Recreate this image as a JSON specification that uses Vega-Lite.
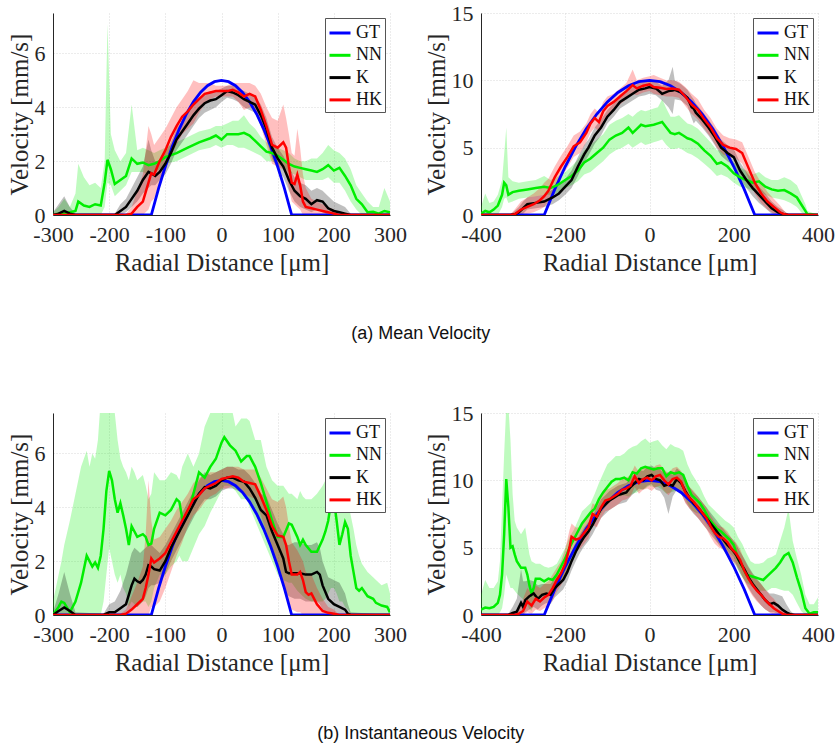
{
"$schema": "https://vega.github.io/schema/vega-lite/v6.json",
"background": "white",
"padding": {"left": 7, "top": 2, "right": 0, "bottom": 0},
"config": {
 "font": "Liberation Serif",
 "view": {"stroke": null},
 "axis": {"labelFont": "Liberation Serif", "labelFontSize": 22, "labelColor": "#262626", "titleFont": "Liberation Serif", "titleFontSize": 25, "titleFontWeight": "normal", "titleColor": "#262626", "gridColor": "#d9d9d9", "gridDash": [1, 2], "domainColor": "#262626", "domainWidth": 1, "ticks": false, "labelFlush": false, "labelOverlap": false, "labelExpr": "toString(datum.value)"},
 "axisX": {"labelPadding": 9, "titlePadding": 5},
 "axisY": {"labelPadding": 8, "titlePadding": 2},
 "legend": {"orient": "top-right", "offset": 5, "strokeColor": "#555555", "fillColor": "white", "padding": 3, "symbolType": "stroke", "symbolSize": 441, "symbolStrokeWidth": 3, "labelFont": "Liberation Serif", "labelFontSize": 18, "labelColor": "#111111", "labelOffset": 4, "rowPadding": 1.3},
 "title": {"font": "Liberation Sans", "fontSize": 18, "fontWeight": "normal", "color": "#111111"},
 "concat": {"spacing": 91}
},
"datasets": {
"gt1": [
 {"series":"GT","x":-300,"y":0},{"series":"GT","x":-125,"y":0},{"series":"GT","x":-112,"y":0.99},{"series":"GT","x":-100,"y":1.8},{"series":"GT","x":-87.5,"y":2.55},{"series":"GT","x":-75,"y":3.2},{"series":"GT","x":-62.5,"y":3.75},{"series":"GT","x":-50,"y":4.2},{"series":"GT","x":-37.5,"y":4.55},{"series":"GT","x":-25,"y":4.8},{"series":"GT","x":-12.5,"y":4.95},{"series":"GT","x":0,"y":5},{"series":"GT","x":12.5,"y":4.95},{"series":"GT","x":25,"y":4.8},{"series":"GT","x":37.5,"y":4.55},{"series":"GT","x":50,"y":4.2},{"series":"GT","x":62.5,"y":3.75},{"series":"GT","x":75,"y":3.2},{"series":"GT","x":87.5,"y":2.55},{"series":"GT","x":100,"y":1.8},{"series":"GT","x":112,"y":0.99},{"series":"GT","x":125,"y":0},{"series":"GT","x":300,"y":0}
],
"gt2": [
 {"series":"GT","x":-400,"y":0},{"series":"GT","x":-250,"y":0},{"series":"GT","x":-225,"y":1.9},{"series":"GT","x":-200,"y":3.6},{"series":"GT","x":-175,"y":5.1},{"series":"GT","x":-150,"y":6.4},{"series":"GT","x":-125,"y":7.5},{"series":"GT","x":-100,"y":8.4},{"series":"GT","x":-75,"y":9.1},{"series":"GT","x":-50,"y":9.6},{"series":"GT","x":-25,"y":9.9},{"series":"GT","x":0,"y":10},{"series":"GT","x":25,"y":9.9},{"series":"GT","x":50,"y":9.6},{"series":"GT","x":75,"y":9.1},{"series":"GT","x":100,"y":8.4},{"series":"GT","x":125,"y":7.5},{"series":"GT","x":150,"y":6.4},{"series":"GT","x":175,"y":5.1},{"series":"GT","x":200,"y":3.6},{"series":"GT","x":225,"y":1.9},{"series":"GT","x":250,"y":0},{"series":"GT","x":400,"y":0}
],
"a1": [
 {"series":"NN","x":-300,"y":0,"lo":0,"hi":0.1},{"series":"NN","x":-290,"y":0.05,"lo":0,"hi":0.3},{"series":"NN","x":-280,"y":0.05,"lo":0,"hi":0.6},{"series":"NN","x":-270,"y":0.1,"lo":0,"hi":0.3},{"series":"NN","x":-260,"y":0.15,"lo":0,"hi":0.8},{"series":"NN","x":-255,"y":0.5,"lo":0,"hi":1.9},{"series":"NN","x":-245,"y":0.35,"lo":0,"hi":1.4},{"series":"NN","x":-235,"y":0.3,"lo":0,"hi":1.1},{"series":"NN","x":-225,"y":0.4,"lo":0,"hi":1.2},{"series":"NN","x":-215,"y":0.35,"lo":0,"hi":1.0},{"series":"NN","x":-208,"y":1.2,"lo":0.3,"hi":2.0},{"series":"NN","x":-203,"y":2.05,"lo":1.2,"hi":7.1},{"series":"NN","x":-197,"y":1.7,"lo":1.1,"hi":3.0},{"series":"NN","x":-190,"y":1.15,"lo":0.7,"hi":2.4},{"series":"NN","x":-180,"y":1.3,"lo":0.9,"hi":2.0},{"series":"NN","x":-170,"y":1.45,"lo":1.1,"hi":2.3},{"series":"NN","x":-160,"y":2.1,"lo":1.6,"hi":4.1},{"series":"NN","x":-150,"y":1.9,"lo":1.6,"hi":2.4},{"series":"NN","x":-140,"y":1.95,"lo":1.6,"hi":2.5},{"series":"NN","x":-130,"y":1.85,"lo":1.5,"hi":2.4},{"series":"NN","x":-120,"y":1.9,"lo":1.6,"hi":2.3},{"series":"NN","x":-110,"y":2.0,"lo":1.7,"hi":2.4},{"series":"NN","x":-100,"y":2.15,"lo":1.9,"hi":2.5},{"series":"NN","x":-80,"y":2.3,"lo":2.0,"hi":2.7},{"series":"NN","x":-60,"y":2.5,"lo":2.2,"hi":2.9},{"series":"NN","x":-40,"y":2.7,"lo":2.4,"hi":3.1},{"series":"NN","x":-20,"y":2.85,"lo":2.5,"hi":3.2},{"series":"NN","x":-10,"y":2.95,"lo":2.6,"hi":3.3},{"series":"NN","x":0,"y":2.8,"lo":2.5,"hi":3.3},{"series":"NN","x":10,"y":3.0,"lo":2.6,"hi":3.4},{"series":"NN","x":20,"y":3.0,"lo":2.6,"hi":3.5},{"series":"NN","x":30,"y":3.0,"lo":2.5,"hi":3.5},{"series":"NN","x":40,"y":3.05,"lo":2.5,"hi":3.7},{"series":"NN","x":50,"y":2.95,"lo":2.4,"hi":3.4},{"series":"NN","x":60,"y":2.75,"lo":2.3,"hi":3.2},{"series":"NN","x":70,"y":2.55,"lo":2.2,"hi":2.9},{"series":"NN","x":80,"y":2.35,"lo":2.0,"hi":2.7},{"series":"NN","x":90,"y":2.3,"lo":2.0,"hi":2.6},{"series":"NN","x":100,"y":2.2,"lo":1.9,"hi":2.5},{"series":"NN","x":110,"y":2.05,"lo":1.8,"hi":2.4},{"series":"NN","x":120,"y":1.9,"lo":1.6,"hi":2.3},{"series":"NN","x":130,"y":1.8,"lo":1.5,"hi":2.1},{"series":"NN","x":140,"y":1.75,"lo":1.4,"hi":2.0},{"series":"NN","x":150,"y":1.7,"lo":1.3,"hi":2.0},{"series":"NN","x":160,"y":1.65,"lo":1.3,"hi":2.1},{"series":"NN","x":170,"y":1.6,"lo":1.3,"hi":2.1},{"series":"NN","x":180,"y":1.7,"lo":1.3,"hi":2.3},{"series":"NN","x":190,"y":1.85,"lo":1.4,"hi":2.6},{"series":"NN","x":200,"y":1.65,"lo":1.2,"hi":2.4},{"series":"NN","x":210,"y":1.75,"lo":1.2,"hi":2.3},{"series":"NN","x":220,"y":1.45,"lo":0.9,"hi":2.1},{"series":"NN","x":230,"y":1.1,"lo":0.5,"hi":1.7},{"series":"NN","x":240,"y":0.6,"lo":0.2,"hi":1.1},{"series":"NN","x":250,"y":0.4,"lo":0,"hi":0.8},{"series":"NN","x":260,"y":0.1,"lo":0,"hi":0.5},{"series":"NN","x":270,"y":0.12,"lo":0,"hi":0.3},{"series":"NN","x":280,"y":0.05,"lo":0,"hi":0.3},{"series":"NN","x":290,"y":0.15,"lo":0,"hi":1.0},{"series":"NN","x":300,"y":0.1,"lo":0,"hi":0.5},
 {"series":"K","x":-300,"y":0,"lo":0,"hi":0.1},{"series":"K","x":-290,"y":0.05,"lo":0,"hi":0.4},{"series":"K","x":-280,"y":0.15,"lo":0,"hi":0.7},{"series":"K","x":-270,"y":0.05,"lo":0,"hi":0.3},{"series":"K","x":-260,"y":0,"lo":0,"hi":0.05},{"series":"K","x":-190,"y":0,"lo":0,"hi":0.05},{"series":"K","x":-180,"y":0.15,"lo":0,"hi":0.4},{"series":"K","x":-170,"y":0.3,"lo":0.1,"hi":0.6},{"series":"K","x":-160,"y":0.6,"lo":0.3,"hi":1.0},{"series":"K","x":-150,"y":0.9,"lo":0.5,"hi":1.4},{"series":"K","x":-140,"y":1.3,"lo":0.8,"hi":1.8},{"series":"K","x":-130,"y":1.6,"lo":1.0,"hi":2.8},{"series":"K","x":-125,"y":1.55,"lo":1.1,"hi":2.4},{"series":"K","x":-118,"y":1.45,"lo":1.1,"hi":2.0},{"series":"K","x":-110,"y":1.6,"lo":1.3,"hi":2.0},{"series":"K","x":-100,"y":1.9,"lo":1.5,"hi":2.3},{"series":"K","x":-90,"y":2.3,"lo":1.9,"hi":2.7},{"series":"K","x":-80,"y":2.8,"lo":2.4,"hi":3.2},{"series":"K","x":-70,"y":3.1,"lo":2.7,"hi":3.5},{"series":"K","x":-60,"y":3.4,"lo":3.0,"hi":3.8},{"series":"K","x":-50,"y":3.7,"lo":3.3,"hi":4.1},{"series":"K","x":-40,"y":3.95,"lo":3.6,"hi":4.3},{"series":"K","x":-30,"y":4.15,"lo":3.8,"hi":4.5},{"series":"K","x":-20,"y":4.25,"lo":3.9,"hi":4.6},{"series":"K","x":-10,"y":4.3,"lo":4.0,"hi":4.6},{"series":"K","x":0,"y":4.45,"lo":4.2,"hi":4.7},{"series":"K","x":10,"y":4.6,"lo":4.35,"hi":4.8},{"series":"K","x":20,"y":4.55,"lo":4.3,"hi":4.8},{"series":"K","x":30,"y":4.45,"lo":4.2,"hi":4.7},{"series":"K","x":40,"y":4.3,"lo":4.0,"hi":4.6},{"series":"K","x":50,"y":4.2,"lo":3.9,"hi":4.5},{"series":"K","x":60,"y":4.1,"lo":3.8,"hi":4.4},{"series":"K","x":70,"y":3.7,"lo":3.3,"hi":4.1},{"series":"K","x":80,"y":3.2,"lo":2.8,"hi":3.6},{"series":"K","x":90,"y":2.5,"lo":2.1,"hi":2.9},{"series":"K","x":100,"y":2.1,"lo":1.7,"hi":2.5},{"series":"K","x":110,"y":1.8,"lo":1.4,"hi":2.2},{"series":"K","x":120,"y":1.3,"lo":0.9,"hi":1.8},{"series":"K","x":130,"y":0.9,"lo":0.5,"hi":1.4},{"series":"K","x":140,"y":0.7,"lo":0.3,"hi":1.2},{"series":"K","x":150,"y":0.6,"lo":0.2,"hi":1.1},{"series":"K","x":160,"y":0.4,"lo":0.1,"hi":0.9},{"series":"K","x":170,"y":0.55,"lo":0.2,"hi":1.0},{"series":"K","x":180,"y":0.5,"lo":0.1,"hi":0.9},{"series":"K","x":190,"y":0.25,"lo":0,"hi":0.7},{"series":"K","x":200,"y":0.15,"lo":0,"hi":0.5},{"series":"K","x":210,"y":0.1,"lo":0,"hi":0.4},{"series":"K","x":220,"y":0.05,"lo":0,"hi":0.3},{"series":"K","x":230,"y":0,"lo":0,"hi":0.05},{"series":"K","x":300,"y":0,"lo":0,"hi":0},
 {"series":"HK","x":-300,"y":0,"lo":0,"hi":0},{"series":"HK","x":-170,"y":0,"lo":0,"hi":0.05},{"series":"HK","x":-160,"y":0.05,"lo":0,"hi":0.3},{"series":"HK","x":-150,"y":0.3,"lo":0,"hi":0.9},{"series":"HK","x":-140,"y":0.5,"lo":0,"hi":1.5},{"series":"HK","x":-130,"y":1.2,"lo":0.2,"hi":3.3},{"series":"HK","x":-125,"y":1.55,"lo":0.5,"hi":3.0},{"series":"HK","x":-120,"y":1.5,"lo":0.6,"hi":2.6},{"series":"HK","x":-110,"y":2.0,"lo":1.2,"hi":2.9},{"series":"HK","x":-100,"y":2.4,"lo":1.7,"hi":3.2},{"series":"HK","x":-90,"y":2.9,"lo":2.2,"hi":3.6},{"series":"HK","x":-80,"y":3.3,"lo":2.6,"hi":4.0},{"series":"HK","x":-70,"y":3.65,"lo":3.0,"hi":4.3},{"series":"HK","x":-60,"y":3.85,"lo":3.2,"hi":4.6},{"series":"HK","x":-50,"y":4.1,"lo":3.4,"hi":5.0},{"series":"HK","x":-40,"y":4.3,"lo":3.8,"hi":4.9},{"series":"HK","x":-30,"y":4.5,"lo":4.1,"hi":4.9},{"series":"HK","x":-20,"y":4.55,"lo":4.3,"hi":4.9},{"series":"HK","x":-10,"y":4.6,"lo":4.4,"hi":4.8},{"series":"HK","x":0,"y":4.6,"lo":4.4,"hi":4.8},{"series":"HK","x":10,"y":4.6,"lo":4.4,"hi":4.8},{"series":"HK","x":20,"y":4.65,"lo":4.4,"hi":4.9},{"series":"HK","x":30,"y":4.55,"lo":4.2,"hi":4.9},{"series":"HK","x":40,"y":4.4,"lo":3.9,"hi":4.9},{"series":"HK","x":50,"y":4.5,"lo":4.0,"hi":4.9},{"series":"HK","x":60,"y":4.4,"lo":3.9,"hi":4.8},{"series":"HK","x":70,"y":3.9,"lo":3.3,"hi":4.5},{"series":"HK","x":80,"y":3.3,"lo":2.6,"hi":4.0},{"series":"HK","x":90,"y":2.6,"lo":1.9,"hi":3.6},{"series":"HK","x":100,"y":2.5,"lo":1.8,"hi":3.5},{"series":"HK","x":110,"y":2.7,"lo":1.7,"hi":4.1},{"series":"HK","x":115,"y":2.5,"lo":1.5,"hi":3.6},{"series":"HK","x":120,"y":1.8,"lo":1.0,"hi":3.0},{"series":"HK","x":125,"y":1.2,"lo":0.5,"hi":2.3},{"series":"HK","x":130,"y":1.15,"lo":0.4,"hi":2.2},{"series":"HK","x":135,"y":1.5,"lo":0.3,"hi":3.2},{"series":"HK","x":140,"y":1.1,"lo":0.2,"hi":2.5},{"series":"HK","x":145,"y":0.5,"lo":0,"hi":1.5},{"series":"HK","x":150,"y":0.3,"lo":0,"hi":1.0},{"series":"HK","x":160,"y":0.25,"lo":0,"hi":0.6},{"series":"HK","x":170,"y":0.2,"lo":0,"hi":0.5},{"series":"HK","x":180,"y":0.15,"lo":0,"hi":0.4},{"series":"HK","x":190,"y":0.1,"lo":0,"hi":0.3},{"series":"HK","x":200,"y":0.05,"lo":0,"hi":0.2},{"series":"HK","x":210,"y":0,"lo":0,"hi":0},{"series":"HK","x":300,"y":0,"lo":0,"hi":0}
],
"a2": [
 {"series":"NN","x":-400,"y":0.1,"lo":0,"hi":0.6},{"series":"NN","x":-390,"y":0.3,"lo":0,"hi":1.6},{"series":"NN","x":-380,"y":0.2,"lo":0,"hi":0.9},{"series":"NN","x":-370,"y":0.4,"lo":0,"hi":1.0},{"series":"NN","x":-360,"y":0.7,"lo":0,"hi":1.5},{"series":"NN","x":-350,"y":1.5,"lo":0.6,"hi":2.6},{"series":"NN","x":-345,"y":2.4,"lo":1.2,"hi":4.5},{"series":"NN","x":-340,"y":2.2,"lo":1.3,"hi":6.5},{"series":"NN","x":-335,"y":1.5,"lo":0.9,"hi":2.8},{"series":"NN","x":-325,"y":1.7,"lo":1.0,"hi":2.5},{"series":"NN","x":-310,"y":1.8,"lo":1.2,"hi":2.4},{"series":"NN","x":-290,"y":1.9,"lo":1.3,"hi":2.5},{"series":"NN","x":-270,"y":2.0,"lo":1.4,"hi":2.6},{"series":"NN","x":-250,"y":2.1,"lo":1.5,"hi":2.9},{"series":"NN","x":-235,"y":2.0,"lo":1.5,"hi":2.6},{"series":"NN","x":-220,"y":2.2,"lo":1.6,"hi":2.8},{"series":"NN","x":-210,"y":2.4,"lo":1.8,"hi":3.0},{"series":"NN","x":-200,"y":2.6,"lo":2.0,"hi":3.2},{"series":"NN","x":-185,"y":2.9,"lo":2.2,"hi":3.6},{"series":"NN","x":-170,"y":3.3,"lo":2.5,"hi":4.1},{"series":"NN","x":-155,"y":3.9,"lo":3.0,"hi":4.8},{"series":"NN","x":-140,"y":4.2,"lo":3.2,"hi":5.2},{"series":"NN","x":-125,"y":4.6,"lo":3.6,"hi":5.6},{"series":"NN","x":-110,"y":5.0,"lo":4.0,"hi":6.0},{"series":"NN","x":-95,"y":5.6,"lo":4.5,"hi":6.7},{"series":"NN","x":-80,"y":5.9,"lo":4.8,"hi":7.0},{"series":"NN","x":-65,"y":6.1,"lo":5.0,"hi":7.2},{"series":"NN","x":-50,"y":6.5,"lo":5.3,"hi":7.5},{"series":"NN","x":-40,"y":6.1,"lo":5.0,"hi":7.3},{"series":"NN","x":-30,"y":6.4,"lo":5.2,"hi":7.6},{"series":"NN","x":-20,"y":6.7,"lo":5.4,"hi":7.8},{"series":"NN","x":-10,"y":6.6,"lo":5.2,"hi":7.7},{"series":"NN","x":0,"y":6.65,"lo":5.3,"hi":7.8},{"series":"NN","x":10,"y":6.7,"lo":5.4,"hi":7.9},{"series":"NN","x":20,"y":6.8,"lo":5.5,"hi":8.0},{"series":"NN","x":30,"y":6.9,"lo":5.6,"hi":8.6},{"series":"NN","x":40,"y":6.5,"lo":5.2,"hi":7.9},{"series":"NN","x":50,"y":6.1,"lo":4.9,"hi":7.3},{"series":"NN","x":60,"y":6.0,"lo":4.9,"hi":7.3},{"series":"NN","x":70,"y":6.1,"lo":5.0,"hi":7.4},{"series":"NN","x":80,"y":5.9,"lo":4.8,"hi":7.1},{"series":"NN","x":90,"y":5.7,"lo":4.6,"hi":6.8},{"series":"NN","x":100,"y":5.6,"lo":4.5,"hi":6.7},{"series":"NN","x":115,"y":5.3,"lo":4.2,"hi":6.4},{"series":"NN","x":130,"y":4.8,"lo":3.8,"hi":5.9},{"series":"NN","x":145,"y":4.4,"lo":3.4,"hi":5.4},{"series":"NN","x":160,"y":3.8,"lo":2.9,"hi":4.8},{"series":"NN","x":170,"y":3.9,"lo":3.0,"hi":4.8},{"series":"NN","x":185,"y":3.6,"lo":2.8,"hi":4.4},{"series":"NN","x":200,"y":3.1,"lo":2.4,"hi":3.9},{"series":"NN","x":215,"y":2.8,"lo":2.1,"hi":3.5},{"series":"NN","x":230,"y":2.6,"lo":2.0,"hi":3.3},{"series":"NN","x":245,"y":2.4,"lo":1.8,"hi":3.0},{"series":"NN","x":260,"y":2.5,"lo":1.8,"hi":3.2},{"series":"NN","x":275,"y":2.1,"lo":1.5,"hi":2.8},{"series":"NN","x":290,"y":1.9,"lo":1.3,"hi":2.6},{"series":"NN","x":305,"y":1.8,"lo":1.2,"hi":2.6},{"series":"NN","x":320,"y":1.85,"lo":1.1,"hi":2.8},{"series":"NN","x":335,"y":1.6,"lo":0.9,"hi":2.6},{"series":"NN","x":350,"y":1.3,"lo":0.6,"hi":2.2},{"series":"NN","x":360,"y":0.8,"lo":0.2,"hi":1.5},{"series":"NN","x":370,"y":0.3,"lo":0,"hi":0.8},{"series":"NN","x":375,"y":0.05,"lo":0,"hi":0.3},{"series":"NN","x":400,"y":0,"lo":0,"hi":0},
 {"series":"K","x":-400,"y":0,"lo":0,"hi":0},{"series":"K","x":-330,"y":0,"lo":0,"hi":0.05},{"series":"K","x":-320,"y":0.05,"lo":0,"hi":0.3},{"series":"K","x":-310,"y":0.2,"lo":0,"hi":0.6},{"series":"K","x":-300,"y":0.5,"lo":0.1,"hi":1.0},{"series":"K","x":-290,"y":0.8,"lo":0.4,"hi":1.3},{"series":"K","x":-270,"y":0.9,"lo":0.5,"hi":1.4},{"series":"K","x":-250,"y":1.0,"lo":0.6,"hi":1.5},{"series":"K","x":-230,"y":1.3,"lo":0.8,"hi":1.9},{"series":"K","x":-215,"y":1.6,"lo":1.1,"hi":2.2},{"series":"K","x":-200,"y":2.1,"lo":1.5,"hi":2.7},{"series":"K","x":-185,"y":2.6,"lo":2.0,"hi":3.3},{"series":"K","x":-170,"y":3.6,"lo":2.9,"hi":4.3},{"series":"K","x":-155,"y":4.5,"lo":3.9,"hi":5.2},{"series":"K","x":-145,"y":5.0,"lo":4.4,"hi":5.6},{"series":"K","x":-130,"y":5.9,"lo":5.3,"hi":6.5},{"series":"K","x":-115,"y":6.5,"lo":5.9,"hi":7.1},{"series":"K","x":-100,"y":7.3,"lo":6.8,"hi":7.8},{"series":"K","x":-85,"y":7.8,"lo":7.3,"hi":8.3},{"series":"K","x":-70,"y":8.4,"lo":7.9,"hi":8.9},{"series":"K","x":-55,"y":8.7,"lo":8.2,"hi":9.2},{"series":"K","x":-40,"y":9.0,"lo":8.5,"hi":9.5},{"series":"K","x":-25,"y":9.3,"lo":8.8,"hi":9.8},{"series":"K","x":-10,"y":9.4,"lo":8.9,"hi":9.9},{"series":"K","x":0,"y":9.5,"lo":9.0,"hi":10.0},{"series":"K","x":15,"y":9.4,"lo":8.9,"hi":9.9},{"series":"K","x":30,"y":9.0,"lo":8.5,"hi":9.6},{"series":"K","x":45,"y":9.2,"lo":8.0,"hi":10.0},{"series":"K","x":55,"y":9.25,"lo":7.5,"hi":11.0},{"series":"K","x":60,"y":9.3,"lo":8.6,"hi":10.0},{"series":"K","x":75,"y":9.1,"lo":8.5,"hi":9.7},{"series":"K","x":90,"y":8.7,"lo":8.1,"hi":9.3},{"series":"K","x":100,"y":8.0,"lo":7.2,"hi":8.8},{"series":"K","x":105,"y":7.9,"lo":6.8,"hi":8.6},{"series":"K","x":110,"y":7.6,"lo":7.0,"hi":8.3},{"series":"K","x":125,"y":7.1,"lo":6.5,"hi":7.7},{"series":"K","x":140,"y":6.5,"lo":5.9,"hi":7.1},{"series":"K","x":155,"y":5.8,"lo":5.2,"hi":6.4},{"series":"K","x":170,"y":5.0,"lo":4.4,"hi":5.6},{"series":"K","x":185,"y":4.6,"lo":4.0,"hi":5.2},{"series":"K","x":200,"y":4.3,"lo":3.7,"hi":4.9},{"series":"K","x":215,"y":3.3,"lo":2.7,"hi":3.9},{"series":"K","x":230,"y":2.6,"lo":2.0,"hi":3.2},{"series":"K","x":245,"y":2.0,"lo":1.4,"hi":2.6},{"series":"K","x":260,"y":1.5,"lo":0.9,"hi":2.1},{"series":"K","x":275,"y":1.0,"lo":0.5,"hi":1.6},{"series":"K","x":290,"y":0.5,"lo":0.1,"hi":1.0},{"series":"K","x":305,"y":0.2,"lo":0,"hi":0.6},{"series":"K","x":320,"y":0.05,"lo":0,"hi":0.3},{"series":"K","x":330,"y":0,"lo":0,"hi":0.05},{"series":"K","x":400,"y":0,"lo":0,"hi":0},
 {"series":"HK","x":-400,"y":0,"lo":0,"hi":0},{"series":"HK","x":-330,"y":0,"lo":0,"hi":0.05},{"series":"HK","x":-320,"y":0.05,"lo":0,"hi":0.4},{"series":"HK","x":-305,"y":0.4,"lo":0,"hi":1.0},{"series":"HK","x":-290,"y":0.6,"lo":0.1,"hi":1.3},{"series":"HK","x":-275,"y":0.8,"lo":0.2,"hi":1.6},{"series":"HK","x":-260,"y":1.1,"lo":0.4,"hi":2.0},{"series":"HK","x":-250,"y":1.4,"lo":0.6,"hi":2.4},{"series":"HK","x":-240,"y":1.8,"lo":1.0,"hi":2.7},{"series":"HK","x":-225,"y":2.8,"lo":2.0,"hi":3.6},{"series":"HK","x":-210,"y":3.6,"lo":2.8,"hi":4.4},{"series":"HK","x":-195,"y":4.3,"lo":3.5,"hi":5.1},{"series":"HK","x":-180,"y":5.1,"lo":4.3,"hi":5.9},{"series":"HK","x":-165,"y":5.4,"lo":4.6,"hi":6.2},{"series":"HK","x":-150,"y":6.1,"lo":5.4,"hi":6.8},{"series":"HK","x":-140,"y":6.8,"lo":6.1,"hi":7.5},{"series":"HK","x":-130,"y":7.2,"lo":6.5,"hi":7.9},{"series":"HK","x":-120,"y":6.9,"lo":6.2,"hi":7.6},{"series":"HK","x":-110,"y":7.7,"lo":7.0,"hi":8.4},{"series":"HK","x":-100,"y":8.1,"lo":7.4,"hi":8.8},{"series":"HK","x":-85,"y":8.4,"lo":7.8,"hi":9.0},{"series":"HK","x":-70,"y":8.8,"lo":8.2,"hi":9.4},{"series":"HK","x":-55,"y":9.2,"lo":8.6,"hi":9.8},{"series":"HK","x":-40,"y":9.65,"lo":9.0,"hi":10.8},{"series":"HK","x":-30,"y":9.4,"lo":8.9,"hi":10.0},{"series":"HK","x":-15,"y":9.6,"lo":9.1,"hi":10.2},{"series":"HK","x":0,"y":9.7,"lo":9.2,"hi":10.3},{"series":"HK","x":10,"y":9.5,"lo":9.0,"hi":10.4},{"series":"HK","x":25,"y":9.45,"lo":8.9,"hi":10.2},{"series":"HK","x":40,"y":9.35,"lo":8.8,"hi":10.0},{"series":"HK","x":55,"y":9.4,"lo":8.8,"hi":10.0},{"series":"HK","x":70,"y":9.3,"lo":8.7,"hi":9.9},{"series":"HK","x":85,"y":8.8,"lo":8.1,"hi":9.5},{"series":"HK","x":100,"y":8.2,"lo":7.5,"hi":9.0},{"series":"HK","x":115,"y":7.8,"lo":7.1,"hi":8.6},{"series":"HK","x":130,"y":7.1,"lo":6.4,"hi":7.8},{"series":"HK","x":145,"y":6.5,"lo":5.8,"hi":7.2},{"series":"HK","x":160,"y":5.7,"lo":5.0,"hi":6.4},{"series":"HK","x":175,"y":5.2,"lo":4.5,"hi":5.9},{"series":"HK","x":190,"y":5.0,"lo":4.3,"hi":5.7},{"series":"HK","x":205,"y":4.9,"lo":4.2,"hi":5.6},{"series":"HK","x":220,"y":4.6,"lo":3.8,"hi":5.4},{"series":"HK","x":235,"y":3.5,"lo":2.7,"hi":4.3},{"series":"HK","x":250,"y":2.4,"lo":1.6,"hi":3.2},{"series":"HK","x":265,"y":1.6,"lo":0.9,"hi":2.4},{"series":"HK","x":280,"y":1.0,"lo":0.4,"hi":1.7},{"series":"HK","x":295,"y":0.6,"lo":0.1,"hi":1.2},{"series":"HK","x":310,"y":0.2,"lo":0,"hi":0.7},{"series":"HK","x":320,"y":0.05,"lo":0,"hi":0.3},{"series":"HK","x":330,"y":0,"lo":0,"hi":0},{"series":"HK","x":400,"y":0,"lo":0,"hi":0}
],
"b1": [
 {"series":"NN","x":-300,"y":0,"lo":0,"hi":0.5},{"series":"NN","x":-290,"y":0.3,"lo":0,"hi":1.5},{"series":"NN","x":-285,"y":0.5,"lo":0,"hi":2.0},{"series":"NN","x":-280,"y":0.45,"lo":0,"hi":2.6},{"series":"NN","x":-270,"y":0.1,"lo":0,"hi":3.5},{"series":"NN","x":-260,"y":0.5,"lo":0,"hi":4.5},{"series":"NN","x":-250,"y":1.2,"lo":0,"hi":5.5},{"series":"NN","x":-240,"y":2.2,"lo":0,"hi":6.1},{"series":"NN","x":-235,"y":2.0,"lo":0,"hi":5.5},{"series":"NN","x":-230,"y":1.8,"lo":0,"hi":6.0},{"series":"NN","x":-225,"y":1.95,"lo":0,"hi":5.8},{"series":"NN","x":-220,"y":1.75,"lo":0,"hi":6.5},{"series":"NN","x":-215,"y":2.2,"lo":0,"hi":8},{"series":"NN","x":-210,"y":3.2,"lo":0.5,"hi":8},{"series":"NN","x":-205,"y":4.6,"lo":1.5,"hi":8},{"series":"NN","x":-200,"y":5.35,"lo":2.5,"hi":8},{"series":"NN","x":-195,"y":5.0,"lo":2.0,"hi":8},{"series":"NN","x":-190,"y":4.3,"lo":1.5,"hi":7.5},{"series":"NN","x":-185,"y":3.8,"lo":1.2,"hi":6.5},{"series":"NN","x":-180,"y":4.15,"lo":1.5,"hi":5.8},{"series":"NN","x":-175,"y":3.7,"lo":1.0,"hi":5.5},{"series":"NN","x":-170,"y":3.2,"lo":0.8,"hi":5.3},{"series":"NN","x":-165,"y":2.6,"lo":0.3,"hi":5.0},{"series":"NN","x":-160,"y":3.3,"lo":0.5,"hi":5.5},{"series":"NN","x":-155,"y":3.1,"lo":0.4,"hi":5.3},{"series":"NN","x":-150,"y":2.9,"lo":0.3,"hi":5.0},{"series":"NN","x":-140,"y":3.0,"lo":0.5,"hi":5.2},{"series":"NN","x":-135,"y":2.9,"lo":0.5,"hi":4.8},{"series":"NN","x":-130,"y":2.6,"lo":0.3,"hi":4.3},{"series":"NN","x":-125,"y":2.65,"lo":0.5,"hi":4.5},{"series":"NN","x":-120,"y":3.2,"lo":1.0,"hi":5.3},{"series":"NN","x":-110,"y":3.8,"lo":1.5,"hi":5.0},{"series":"NN","x":-100,"y":3.7,"lo":1.5,"hi":5.0},{"series":"NN","x":-90,"y":3.9,"lo":1.8,"hi":5.3},{"series":"NN","x":-80,"y":4.3,"lo":2.0,"hi":5.2},{"series":"NN","x":-75,"y":4.2,"lo":2.2,"hi":5.0},{"series":"NN","x":-70,"y":3.6,"lo":2.0,"hi":5.5},{"series":"NN","x":-60,"y":3.7,"lo":2.0,"hi":6.0},{"series":"NN","x":-50,"y":4.5,"lo":2.5,"hi":5.5},{"series":"NN","x":-40,"y":5.3,"lo":3.0,"hi":6.0},{"series":"NN","x":-30,"y":5.1,"lo":3.3,"hi":7.0},{"series":"NN","x":-20,"y":5.5,"lo":3.8,"hi":7.5},{"series":"NN","x":-10,"y":5.8,"lo":4.2,"hi":8},{"series":"NN","x":0,"y":6.4,"lo":4.6,"hi":8},{"series":"NN","x":5,"y":6.6,"lo":4.8,"hi":8},{"series":"NN","x":15,"y":6.3,"lo":4.8,"hi":8},{"series":"NN","x":25,"y":6.1,"lo":4.6,"hi":7.0},{"series":"NN","x":35,"y":5.7,"lo":4.3,"hi":7.3},{"series":"NN","x":45,"y":5.9,"lo":4.3,"hi":7.3},{"series":"NN","x":50,"y":5.9,"lo":4.0,"hi":7.2},{"series":"NN","x":60,"y":5.5,"lo":3.5,"hi":6.5},{"series":"NN","x":70,"y":4.9,"lo":3.0,"hi":6.5},{"series":"NN","x":80,"y":4.2,"lo":2.5,"hi":5.5},{"series":"NN","x":90,"y":3.5,"lo":2.0,"hi":5.0},{"series":"NN","x":100,"y":2.9,"lo":1.5,"hi":4.8},{"series":"NN","x":110,"y":2.9,"lo":1.3,"hi":4.8},{"series":"NN","x":120,"y":3.4,"lo":1.2,"hi":4.5},{"series":"NN","x":125,"y":3.35,"lo":1.2,"hi":4.5},{"series":"NN","x":135,"y":2.9,"lo":0.9,"hi":4.3},{"series":"NN","x":140,"y":2.6,"lo":0.8,"hi":4.6},{"series":"NN","x":145,"y":2.8,"lo":0.7,"hi":4.4},{"series":"NN","x":150,"y":2.6,"lo":0.6,"hi":4.3},{"series":"NN","x":160,"y":2.35,"lo":0.5,"hi":4.3},{"series":"NN","x":170,"y":2.35,"lo":0.5,"hi":4.5},{"series":"NN","x":180,"y":2.8,"lo":0.5,"hi":4.8},{"series":"NN","x":185,"y":3.1,"lo":0.6,"hi":5.0},{"series":"NN","x":190,"y":3.5,"lo":0.8,"hi":5.4},{"series":"NN","x":195,"y":4.2,"lo":1.0,"hi":5.7},{"series":"NN","x":200,"y":4.3,"lo":1.0,"hi":5.7},{"series":"NN","x":205,"y":3.5,"lo":0.8,"hi":5.2},{"series":"NN","x":210,"y":2.6,"lo":0.5,"hi":4.6},{"series":"NN","x":215,"y":3.0,"lo":0.5,"hi":4.6},{"series":"NN","x":220,"y":3.45,"lo":0.3,"hi":4.5},{"series":"NN","x":225,"y":3.2,"lo":0.2,"hi":4.2},{"series":"NN","x":230,"y":2.2,"lo":0,"hi":3.7},{"series":"NN","x":235,"y":1.6,"lo":0,"hi":3.2},{"series":"NN","x":240,"y":1.0,"lo":0,"hi":2.6},{"series":"NN","x":245,"y":0.9,"lo":0,"hi":2.2},{"series":"NN","x":250,"y":1.0,"lo":0,"hi":1.9},{"series":"NN","x":260,"y":0.7,"lo":0,"hi":1.6},{"series":"NN","x":270,"y":0.6,"lo":0,"hi":1.4},{"series":"NN","x":275,"y":0.45,"lo":0,"hi":1.3},{"series":"NN","x":285,"y":0.35,"lo":0,"hi":1.1},{"series":"NN","x":295,"y":0.3,"lo":0,"hi":1.2},{"series":"NN","x":300,"y":0.1,"lo":0,"hi":0.8},
 {"series":"K","x":-300,"y":0,"lo":0,"hi":0.1},{"series":"K","x":-290,"y":0.15,"lo":0,"hi":0.8},{"series":"K","x":-280,"y":0.28,"lo":0,"hi":1.6},{"series":"K","x":-270,"y":0.15,"lo":0,"hi":0.8},{"series":"K","x":-260,"y":0,"lo":0,"hi":0.1},{"series":"K","x":-210,"y":0,"lo":0,"hi":0.05},{"series":"K","x":-200,"y":0.1,"lo":0,"hi":0.4},{"series":"K","x":-190,"y":0.1,"lo":0,"hi":0.5},{"series":"K","x":-180,"y":0.25,"lo":0,"hi":0.9},{"series":"K","x":-170,"y":0.4,"lo":0,"hi":1.5},{"series":"K","x":-165,"y":0.75,"lo":0.1,"hi":1.9},{"series":"K","x":-160,"y":1.1,"lo":0.2,"hi":2.3},{"series":"K","x":-155,"y":1.35,"lo":0.3,"hi":2.5},{"series":"K","x":-150,"y":1.25,"lo":0.3,"hi":2.4},{"series":"K","x":-145,"y":1.2,"lo":0.4,"hi":2.3},{"series":"K","x":-140,"y":1.3,"lo":0.5,"hi":2.4},{"series":"K","x":-135,"y":1.5,"lo":0.7,"hi":2.5},{"series":"K","x":-130,"y":1.85,"lo":1.0,"hi":2.6},{"series":"K","x":-125,"y":1.8,"lo":1.1,"hi":2.6},{"series":"K","x":-120,"y":1.7,"lo":1.1,"hi":2.5},{"series":"K","x":-110,"y":1.65,"lo":1.2,"hi":2.3},{"series":"K","x":-100,"y":2.0,"lo":1.5,"hi":2.6},{"series":"K","x":-90,"y":2.5,"lo":2.0,"hi":3.0},{"series":"K","x":-80,"y":2.9,"lo":2.4,"hi":3.4},{"series":"K","x":-70,"y":3.3,"lo":2.8,"hi":3.8},{"series":"K","x":-60,"y":3.7,"lo":3.2,"hi":4.2},{"series":"K","x":-50,"y":4.1,"lo":3.6,"hi":4.6},{"series":"K","x":-40,"y":4.5,"lo":4.0,"hi":5.0},{"series":"K","x":-30,"y":4.75,"lo":4.3,"hi":5.3},{"series":"K","x":-20,"y":4.7,"lo":4.3,"hi":5.2},{"series":"K","x":-10,"y":4.8,"lo":4.4,"hi":5.3},{"series":"K","x":0,"y":5.0,"lo":4.6,"hi":5.4},{"series":"K","x":10,"y":5.1,"lo":4.7,"hi":5.5},{"series":"K","x":20,"y":5.1,"lo":4.7,"hi":5.5},{"series":"K","x":30,"y":5.0,"lo":4.6,"hi":5.4},{"series":"K","x":40,"y":4.95,"lo":4.5,"hi":5.4},{"series":"K","x":50,"y":4.7,"lo":4.2,"hi":5.2},{"series":"K","x":60,"y":4.35,"lo":3.8,"hi":4.9},{"series":"K","x":70,"y":3.9,"lo":3.3,"hi":4.5},{"series":"K","x":80,"y":3.7,"lo":3.0,"hi":4.4},{"series":"K","x":90,"y":3.1,"lo":2.3,"hi":3.9},{"series":"K","x":100,"y":2.6,"lo":1.8,"hi":3.4},{"series":"K","x":110,"y":2.1,"lo":1.2,"hi":3.0},{"series":"K","x":115,"y":1.6,"lo":0.8,"hi":2.6},{"series":"K","x":120,"y":1.55,"lo":0.7,"hi":2.6},{"series":"K","x":130,"y":1.55,"lo":0.6,"hi":2.7},{"series":"K","x":140,"y":1.55,"lo":0.6,"hi":2.7},{"series":"K","x":150,"y":1.5,"lo":0.5,"hi":2.6},{"series":"K","x":160,"y":1.5,"lo":0.5,"hi":2.6},{"series":"K","x":170,"y":1.6,"lo":0.5,"hi":2.7},{"series":"K","x":175,"y":1.5,"lo":0.4,"hi":2.5},{"series":"K","x":180,"y":1.1,"lo":0.2,"hi":2.0},{"series":"K","x":190,"y":0.6,"lo":0,"hi":1.4},{"series":"K","x":200,"y":0.4,"lo":0,"hi":1.3},{"series":"K","x":210,"y":0.3,"lo":0,"hi":1.2},{"series":"K","x":220,"y":0.2,"lo":0,"hi":0.8},{"series":"K","x":225,"y":0.05,"lo":0,"hi":0.4},{"series":"K","x":230,"y":0,"lo":0,"hi":0.1},{"series":"K","x":300,"y":0,"lo":0,"hi":0},
 {"series":"HK","x":-300,"y":0,"lo":0,"hi":0},{"series":"HK","x":-180,"y":0,"lo":0,"hi":0.05},{"series":"HK","x":-170,"y":0.05,"lo":0,"hi":0.2},{"series":"HK","x":-160,"y":0.2,"lo":0,"hi":0.7},{"series":"HK","x":-150,"y":0.4,"lo":0,"hi":1.2},{"series":"HK","x":-140,"y":0.6,"lo":0,"hi":1.8},{"series":"HK","x":-135,"y":1.0,"lo":0,"hi":3.0},{"series":"HK","x":-130,"y":1.5,"lo":0,"hi":5.0},{"series":"HK","x":-125,"y":2.1,"lo":0.3,"hi":3.5},{"series":"HK","x":-120,"y":1.95,"lo":0.3,"hi":2.8},{"series":"HK","x":-110,"y":2.1,"lo":0.5,"hi":2.9},{"series":"HK","x":-100,"y":2.3,"lo":1.0,"hi":3.2},{"series":"HK","x":-90,"y":2.7,"lo":1.6,"hi":3.5},{"series":"HK","x":-80,"y":3.1,"lo":2.2,"hi":3.9},{"series":"HK","x":-70,"y":3.5,"lo":2.7,"hi":4.2},{"series":"HK","x":-60,"y":3.9,"lo":3.3,"hi":4.5},{"series":"HK","x":-50,"y":4.3,"lo":3.7,"hi":4.9},{"series":"HK","x":-40,"y":4.45,"lo":3.9,"hi":5.1},{"series":"HK","x":-30,"y":4.7,"lo":4.2,"hi":5.2},{"series":"HK","x":-20,"y":4.8,"lo":4.4,"hi":5.3},{"series":"HK","x":-10,"y":4.9,"lo":4.5,"hi":5.3},{"series":"HK","x":0,"y":5.05,"lo":4.7,"hi":5.4},{"series":"HK","x":10,"y":5.1,"lo":4.7,"hi":5.5},{"series":"HK","x":20,"y":5.15,"lo":4.8,"hi":5.5},{"series":"HK","x":30,"y":5.1,"lo":4.7,"hi":5.5},{"series":"HK","x":40,"y":4.95,"lo":4.5,"hi":5.4},{"series":"HK","x":50,"y":4.9,"lo":4.4,"hi":5.4},{"series":"HK","x":60,"y":4.85,"lo":4.3,"hi":5.4},{"series":"HK","x":70,"y":4.4,"lo":3.7,"hi":5.1},{"series":"HK","x":80,"y":3.9,"lo":3.1,"hi":4.7},{"series":"HK","x":90,"y":3.3,"lo":2.4,"hi":4.3},{"series":"HK","x":100,"y":2.95,"lo":1.8,"hi":4.2},{"series":"HK","x":110,"y":2.9,"lo":1.0,"hi":4.4},{"series":"HK","x":115,"y":2.6,"lo":0.7,"hi":4.0},{"series":"HK","x":120,"y":2.0,"lo":0.4,"hi":3.3},{"series":"HK","x":125,"y":1.5,"lo":0.2,"hi":2.7},{"series":"HK","x":135,"y":1.5,"lo":0.1,"hi":2.4},{"series":"HK","x":140,"y":1.6,"lo":0.1,"hi":2.2},{"series":"HK","x":145,"y":1.3,"lo":0,"hi":2.0},{"series":"HK","x":150,"y":0.85,"lo":0,"hi":1.6},{"series":"HK","x":155,"y":0.75,"lo":0,"hi":1.5},{"series":"HK","x":160,"y":0.8,"lo":0,"hi":1.5},{"series":"HK","x":170,"y":0.4,"lo":0,"hi":1.0},{"series":"HK","x":180,"y":0.15,"lo":0,"hi":0.6},{"series":"HK","x":190,"y":0.08,"lo":0,"hi":0.3},{"series":"HK","x":200,"y":0.05,"lo":0,"hi":0.2},{"series":"HK","x":210,"y":0,"lo":0,"hi":0},{"series":"HK","x":300,"y":0,"lo":0,"hi":0}
],
"b2": [
 {"series":"NN","x":-400,"y":0.4,"lo":0,"hi":1.5},{"series":"NN","x":-390,"y":0.55,"lo":0,"hi":2.6},{"series":"NN","x":-380,"y":0.5,"lo":0,"hi":2.0},{"series":"NN","x":-370,"y":0.6,"lo":0,"hi":2.0},{"series":"NN","x":-360,"y":0.9,"lo":0,"hi":2.5},{"series":"NN","x":-355,"y":1.5,"lo":0.2,"hi":4.0},{"series":"NN","x":-350,"y":3.0,"lo":0.5,"hi":8.0},{"series":"NN","x":-345,"y":6.0,"lo":1.5,"hi":12.0},{"series":"NN","x":-340,"y":10.1,"lo":3.0,"hi":15.5},{"series":"NN","x":-335,"y":8.0,"lo":2.5,"hi":15.5},{"series":"NN","x":-330,"y":5.0,"lo":2.0,"hi":13.0},{"series":"NN","x":-325,"y":5.1,"lo":2.0,"hi":9.0},{"series":"NN","x":-320,"y":4.5,"lo":1.8,"hi":7.0},{"series":"NN","x":-315,"y":4.0,"lo":1.6,"hi":6.5},{"series":"NN","x":-305,"y":3.5,"lo":1.3,"hi":6.0},{"series":"NN","x":-295,"y":3.5,"lo":1.0,"hi":6.5},{"series":"NN","x":-290,"y":3.0,"lo":0.8,"hi":5.5},{"series":"NN","x":-285,"y":2.2,"lo":0.4,"hi":4.5},{"series":"NN","x":-280,"y":1.6,"lo":0.3,"hi":4.0},{"series":"NN","x":-275,"y":2.0,"lo":0.8,"hi":3.9},{"series":"NN","x":-270,"y":2.7,"lo":1.3,"hi":3.8},{"series":"NN","x":-260,"y":2.7,"lo":1.3,"hi":3.8},{"series":"NN","x":-250,"y":2.5,"lo":1.4,"hi":3.6},{"series":"NN","x":-240,"y":2.7,"lo":1.5,"hi":3.5},{"series":"NN","x":-230,"y":2.6,"lo":1.7,"hi":3.6},{"series":"NN","x":-220,"y":3.0,"lo":2.0,"hi":3.8},{"series":"NN","x":-210,"y":3.6,"lo":2.5,"hi":4.4},{"series":"NN","x":-200,"y":4.2,"lo":3.0,"hi":5.0},{"series":"NN","x":-190,"y":5.0,"lo":3.8,"hi":5.8},{"series":"NN","x":-180,"y":5.6,"lo":4.5,"hi":6.3},{"series":"NN","x":-170,"y":6.2,"lo":5.0,"hi":7.0},{"series":"NN","x":-160,"y":6.8,"lo":5.7,"hi":7.7},{"series":"NN","x":-150,"y":7.2,"lo":6.0,"hi":8.0},{"series":"NN","x":-140,"y":7.6,"lo":6.5,"hi":8.3},{"series":"NN","x":-130,"y":7.9,"lo":6.9,"hi":9.0},{"series":"NN","x":-120,"y":8.6,"lo":7.3,"hi":9.8},{"series":"NN","x":-110,"y":9.1,"lo":7.8,"hi":10.5},{"series":"NN","x":-100,"y":9.5,"lo":8.2,"hi":11.2},{"series":"NN","x":-90,"y":9.9,"lo":8.5,"hi":11.5},{"series":"NN","x":-80,"y":10.1,"lo":8.8,"hi":11.8},{"series":"NN","x":-70,"y":10.1,"lo":8.8,"hi":11.8},{"series":"NN","x":-60,"y":10.2,"lo":8.9,"hi":12.0},{"series":"NN","x":-50,"y":10.0,"lo":8.8,"hi":12.3},{"series":"NN","x":-40,"y":10.6,"lo":9.0,"hi":12.5},{"series":"NN","x":-30,"y":10.5,"lo":9.1,"hi":12.6},{"series":"NN","x":-20,"y":10.9,"lo":9.3,"hi":12.9},{"series":"NN","x":-10,"y":11.0,"lo":9.4,"hi":13.1},{"series":"NN","x":0,"y":10.9,"lo":9.6,"hi":12.8},{"series":"NN","x":10,"y":10.8,"lo":9.5,"hi":12.9},{"series":"NN","x":20,"y":10.9,"lo":9.5,"hi":13.0},{"series":"NN","x":30,"y":10.9,"lo":9.3,"hi":12.6},{"series":"NN","x":40,"y":10.3,"lo":9.0,"hi":12.3},{"series":"NN","x":50,"y":10.6,"lo":9.1,"hi":12.7},{"series":"NN","x":60,"y":10.5,"lo":9.2,"hi":12.5},{"series":"NN","x":70,"y":10.6,"lo":9.2,"hi":12.4},{"series":"NN","x":80,"y":10.4,"lo":9.0,"hi":12.2},{"series":"NN","x":90,"y":9.6,"lo":8.3,"hi":11.2},{"series":"NN","x":100,"y":8.9,"lo":7.8,"hi":10.5},{"series":"NN","x":110,"y":8.6,"lo":7.6,"hi":10.0},{"series":"NN","x":120,"y":8.3,"lo":7.5,"hi":9.5},{"series":"NN","x":130,"y":7.8,"lo":7.0,"hi":8.8},{"series":"NN","x":140,"y":7.2,"lo":6.5,"hi":8.2},{"series":"NN","x":150,"y":6.8,"lo":6.0,"hi":7.9},{"series":"NN","x":160,"y":6.4,"lo":5.5,"hi":7.6},{"series":"NN","x":170,"y":6.2,"lo":5.2,"hi":7.3},{"series":"NN","x":180,"y":5.9,"lo":5.0,"hi":7.0},{"series":"NN","x":190,"y":5.6,"lo":4.6,"hi":6.8},{"series":"NN","x":200,"y":5.2,"lo":4.3,"hi":6.5},{"series":"NN","x":210,"y":4.2,"lo":3.4,"hi":5.8},{"series":"NN","x":220,"y":3.6,"lo":2.8,"hi":5.3},{"series":"NN","x":230,"y":3.0,"lo":2.4,"hi":4.6},{"series":"NN","x":240,"y":2.9,"lo":2.2,"hi":4.0},{"series":"NN","x":250,"y":2.8,"lo":2.0,"hi":3.8},{"series":"NN","x":260,"y":2.7,"lo":1.8,"hi":3.8},{"series":"NN","x":270,"y":2.6,"lo":1.8,"hi":3.9},{"series":"NN","x":280,"y":2.9,"lo":1.8,"hi":4.2},{"series":"NN","x":290,"y":3.2,"lo":2.0,"hi":4.3},{"series":"NN","x":300,"y":3.5,"lo":2.0,"hi":4.5},{"series":"NN","x":310,"y":3.9,"lo":1.9,"hi":5.5},{"series":"NN","x":320,"y":4.4,"lo":1.8,"hi":6.5},{"series":"NN","x":330,"y":4.6,"lo":1.8,"hi":7.9},{"series":"NN","x":340,"y":3.9,"lo":1.5,"hi":5.5},{"series":"NN","x":350,"y":2.8,"lo":0.9,"hi":4.2},{"series":"NN","x":360,"y":1.8,"lo":0.3,"hi":3.0},{"series":"NN","x":370,"y":0.5,"lo":0,"hi":1.5},{"series":"NN","x":380,"y":0.1,"lo":0,"hi":0.8},{"series":"NN","x":390,"y":0.2,"lo":0,"hi":0.8},{"series":"NN","x":400,"y":0.2,"lo":0,"hi":1.3},
 {"series":"K","x":-400,"y":0,"lo":0,"hi":0},{"series":"K","x":-335,"y":0,"lo":0,"hi":0.1},{"series":"K","x":-325,"y":0.15,"lo":0,"hi":0.6},{"series":"K","x":-315,"y":0.25,"lo":0,"hi":1.2},{"series":"K","x":-305,"y":0.9,"lo":0,"hi":3.4},{"series":"K","x":-300,"y":0.6,"lo":0,"hi":2.5},{"series":"K","x":-295,"y":1.1,"lo":0.2,"hi":2.5},{"series":"K","x":-285,"y":1.4,"lo":0.4,"hi":2.6},{"series":"K","x":-275,"y":1.6,"lo":0.6,"hi":2.5},{"series":"K","x":-265,"y":1.2,"lo":0.4,"hi":2.2},{"series":"K","x":-255,"y":1.5,"lo":0.7,"hi":2.3},{"series":"K","x":-245,"y":1.6,"lo":0.9,"hi":2.3},{"series":"K","x":-235,"y":1.5,"lo":0.8,"hi":2.3},{"series":"K","x":-225,"y":2.0,"lo":1.3,"hi":2.7},{"series":"K","x":-215,"y":2.3,"lo":1.6,"hi":3.0},{"series":"K","x":-205,"y":2.6,"lo":1.9,"hi":3.3},{"series":"K","x":-195,"y":3.2,"lo":2.5,"hi":3.9},{"series":"K","x":-185,"y":4.0,"lo":3.3,"hi":4.7},{"series":"K","x":-175,"y":4.7,"lo":4.0,"hi":5.4},{"series":"K","x":-165,"y":5.3,"lo":4.6,"hi":6.0},{"series":"K","x":-155,"y":5.8,"lo":5.1,"hi":6.5},{"series":"K","x":-145,"y":6.2,"lo":5.5,"hi":6.9},{"series":"K","x":-135,"y":6.7,"lo":6.0,"hi":7.4},{"series":"K","x":-125,"y":7.3,"lo":6.6,"hi":8.0},{"series":"K","x":-115,"y":7.9,"lo":7.2,"hi":8.6},{"series":"K","x":-105,"y":8.2,"lo":7.5,"hi":8.9},{"series":"K","x":-95,"y":8.5,"lo":7.8,"hi":9.2},{"series":"K","x":-85,"y":8.7,"lo":8.0,"hi":9.4},{"series":"K","x":-75,"y":8.9,"lo":8.2,"hi":9.6},{"series":"K","x":-65,"y":9.0,"lo":8.3,"hi":9.7},{"series":"K","x":-55,"y":9.1,"lo":8.4,"hi":9.8},{"series":"K","x":-45,"y":9.5,"lo":8.8,"hi":10.2},{"series":"K","x":-35,"y":9.8,"lo":9.1,"hi":10.5},{"series":"K","x":-25,"y":10.1,"lo":9.4,"hi":10.8},{"series":"K","x":-15,"y":10.0,"lo":9.3,"hi":10.7},{"series":"K","x":-5,"y":10.3,"lo":9.6,"hi":11.0},{"series":"K","x":5,"y":10.4,"lo":9.7,"hi":11.1},{"series":"K","x":15,"y":10.1,"lo":9.3,"hi":10.9},{"series":"K","x":25,"y":10.0,"lo":9.2,"hi":10.8},{"series":"K","x":35,"y":9.6,"lo":8.7,"hi":10.5},{"series":"K","x":45,"y":9.7,"lo":7.5,"hi":10.6},{"series":"K","x":55,"y":9.6,"lo":8.8,"hi":10.4},{"series":"K","x":65,"y":10.1,"lo":9.3,"hi":10.9},{"series":"K","x":75,"y":9.8,"lo":9.0,"hi":10.6},{"series":"K","x":85,"y":9.2,"lo":8.4,"hi":10.0},{"series":"K","x":95,"y":8.7,"lo":7.9,"hi":9.5},{"series":"K","x":105,"y":8.3,"lo":7.5,"hi":9.1},{"series":"K","x":115,"y":8.0,"lo":7.2,"hi":8.8},{"series":"K","x":125,"y":7.6,"lo":6.8,"hi":8.4},{"series":"K","x":135,"y":7.2,"lo":6.4,"hi":8.0},{"series":"K","x":145,"y":6.8,"lo":6.0,"hi":7.6},{"series":"K","x":155,"y":6.4,"lo":5.6,"hi":7.2},{"series":"K","x":165,"y":6.0,"lo":5.2,"hi":6.8},{"series":"K","x":175,"y":5.6,"lo":4.8,"hi":6.4},{"series":"K","x":185,"y":5.2,"lo":4.4,"hi":6.0},{"series":"K","x":195,"y":4.9,"lo":4.1,"hi":5.7},{"series":"K","x":205,"y":4.5,"lo":3.7,"hi":5.3},{"series":"K","x":215,"y":3.9,"lo":3.1,"hi":4.7},{"series":"K","x":225,"y":3.4,"lo":2.6,"hi":4.2},{"series":"K","x":235,"y":2.8,"lo":2.0,"hi":3.6},{"series":"K","x":245,"y":2.3,"lo":1.5,"hi":3.1},{"series":"K","x":255,"y":1.9,"lo":1.1,"hi":2.7},{"series":"K","x":265,"y":1.5,"lo":0.7,"hi":2.3},{"series":"K","x":275,"y":1.1,"lo":0.4,"hi":1.9},{"series":"K","x":285,"y":0.8,"lo":0.2,"hi":1.6},{"series":"K","x":295,"y":0.9,"lo":0.2,"hi":1.6},{"series":"K","x":305,"y":0.7,"lo":0.1,"hi":1.5},{"series":"K","x":315,"y":0.4,"lo":0,"hi":1.4},{"series":"K","x":325,"y":0.2,"lo":0,"hi":0.8},{"series":"K","x":335,"y":0.05,"lo":0,"hi":0.3},{"series":"K","x":345,"y":0,"lo":0,"hi":0},{"series":"K","x":400,"y":0,"lo":0,"hi":0},
 {"series":"HK","x":-400,"y":0,"lo":0,"hi":0},{"series":"HK","x":-320,"y":0,"lo":0,"hi":0.1},{"series":"HK","x":-310,"y":0.1,"lo":0,"hi":0.5},{"series":"HK","x":-300,"y":0.3,"lo":0,"hi":1.2},{"series":"HK","x":-290,"y":1.0,"lo":0.2,"hi":2.0},{"series":"HK","x":-280,"y":0.7,"lo":0.1,"hi":1.6},{"series":"HK","x":-270,"y":1.2,"lo":0.4,"hi":2.2},{"series":"HK","x":-260,"y":1.0,"lo":0.3,"hi":2.0},{"series":"HK","x":-250,"y":1.3,"lo":0.5,"hi":2.3},{"series":"HK","x":-240,"y":1.5,"lo":0.7,"hi":2.5},{"series":"HK","x":-230,"y":2.0,"lo":1.1,"hi":3.0},{"series":"HK","x":-220,"y":2.6,"lo":1.7,"hi":3.5},{"series":"HK","x":-210,"y":3.1,"lo":2.2,"hi":4.0},{"series":"HK","x":-200,"y":3.8,"lo":2.8,"hi":4.9},{"series":"HK","x":-190,"y":5.0,"lo":3.8,"hi":6.3},{"series":"HK","x":-185,"y":5.8,"lo":4.5,"hi":6.8},{"series":"HK","x":-175,"y":5.6,"lo":4.7,"hi":6.5},{"series":"HK","x":-165,"y":5.7,"lo":4.9,"hi":6.5},{"series":"HK","x":-155,"y":6.1,"lo":5.3,"hi":6.9},{"series":"HK","x":-145,"y":6.5,"lo":5.7,"hi":7.3},{"series":"HK","x":-135,"y":7.5,"lo":6.7,"hi":8.3},{"series":"HK","x":-125,"y":7.3,"lo":6.5,"hi":8.1},{"series":"HK","x":-115,"y":8.0,"lo":7.2,"hi":8.8},{"series":"HK","x":-105,"y":8.5,"lo":7.7,"hi":9.3},{"series":"HK","x":-95,"y":8.6,"lo":7.8,"hi":9.4},{"series":"HK","x":-85,"y":8.8,"lo":8.0,"hi":9.6},{"series":"HK","x":-75,"y":9.0,"lo":8.2,"hi":9.8},{"series":"HK","x":-65,"y":9.3,"lo":8.5,"hi":10.1},{"series":"HK","x":-55,"y":9.4,"lo":8.6,"hi":10.2},{"series":"HK","x":-45,"y":9.6,"lo":8.8,"hi":10.4},{"series":"HK","x":-35,"y":10.3,"lo":9.5,"hi":11.1},{"series":"HK","x":-25,"y":9.8,"lo":9.0,"hi":10.6},{"series":"HK","x":-15,"y":10.1,"lo":9.3,"hi":10.9},{"series":"HK","x":-5,"y":10.2,"lo":9.4,"hi":11.0},{"series":"HK","x":5,"y":10.0,"lo":9.2,"hi":10.8},{"series":"HK","x":15,"y":10.3,"lo":9.5,"hi":11.1},{"series":"HK","x":25,"y":10.4,"lo":9.6,"hi":11.2},{"series":"HK","x":35,"y":10.0,"lo":9.2,"hi":10.8},{"series":"HK","x":45,"y":9.7,"lo":8.9,"hi":10.5},{"series":"HK","x":55,"y":10.1,"lo":9.3,"hi":10.9},{"series":"HK","x":65,"y":10.2,"lo":9.4,"hi":11.0},{"series":"HK","x":75,"y":9.9,"lo":9.1,"hi":10.7},{"series":"HK","x":85,"y":9.1,"lo":8.3,"hi":9.9},{"series":"HK","x":95,"y":8.7,"lo":7.9,"hi":9.5},{"series":"HK","x":105,"y":8.4,"lo":7.6,"hi":9.2},{"series":"HK","x":115,"y":8.0,"lo":7.2,"hi":8.8},{"series":"HK","x":125,"y":7.6,"lo":6.8,"hi":8.4},{"series":"HK","x":135,"y":7.2,"lo":6.4,"hi":8.0},{"series":"HK","x":145,"y":6.6,"lo":5.8,"hi":7.4},{"series":"HK","x":155,"y":6.1,"lo":5.3,"hi":6.9},{"series":"HK","x":165,"y":5.8,"lo":5.0,"hi":6.6},{"series":"HK","x":175,"y":5.7,"lo":4.9,"hi":6.5},{"series":"HK","x":185,"y":5.4,"lo":4.6,"hi":6.2},{"series":"HK","x":195,"y":4.9,"lo":4.1,"hi":5.7},{"series":"HK","x":205,"y":4.6,"lo":3.8,"hi":5.4},{"series":"HK","x":215,"y":4.1,"lo":3.3,"hi":4.9},{"series":"HK","x":225,"y":3.3,"lo":2.5,"hi":4.1},{"series":"HK","x":235,"y":2.7,"lo":1.9,"hi":3.5},{"series":"HK","x":245,"y":2.2,"lo":1.4,"hi":3.0},{"series":"HK","x":255,"y":1.8,"lo":1.0,"hi":2.6},{"series":"HK","x":265,"y":1.5,"lo":0.7,"hi":2.3},{"series":"HK","x":275,"y":1.1,"lo":0.4,"hi":1.9},{"series":"HK","x":285,"y":0.8,"lo":0.2,"hi":1.5},{"series":"HK","x":295,"y":0.5,"lo":0,"hi":1.2},{"series":"HK","x":305,"y":0.3,"lo":0,"hi":0.8},{"series":"HK","x":315,"y":0.1,"lo":0,"hi":0.4},{"series":"HK","x":325,"y":0,"lo":0,"hi":0.1},{"series":"HK","x":400,"y":0,"lo":0,"hi":0}
]
},
"vconcat": [
 {
  "title": {"text": "(a) Mean Velocity", "orient": "bottom", "anchor": "middle", "offset": 50},
  "bounds": "flush",
  "spacing": 91,
  "resolve": {"scale": {"color": "independent", "fill": "independent"}, "legend": {"color": "independent"}},
  "hconcat": [
   {"width": 337, "height": 202,
    "layer": [
     {"data": {"name": "a1"}, "mark": {"type": "area", "opacity": 0.25, "clip": true},
      "encoding": {"x": {"field": "x", "type": "quantitative", "scale": {"domain": [-300, 300], "nice": false}, "axis": {"values": [-300,-200,-100,0,100,200,300], "title": "Radial Distance [μm]"}},
       "y": {"field": "lo", "type": "quantitative", "scale": {"domain": [0, 7.5], "nice": false}, "axis": {"values": [0,2,4,6], "title": "Velocity [mm/s]"}},
       "y2": {"field": "hi"},
       "fill": {"field": "series", "type": "nominal", "scale": {"domain": ["NN","K","HK"], "range": ["#00ee00","#000000","#ff0000"]}, "legend": null}}},
     {"data": {"name": "gt1"}, "mark": {"type": "line", "strokeWidth": 2.8, "clip": true},
      "encoding": {"x": {"field": "x", "type": "quantitative"}, "y": {"field": "y", "type": "quantitative"},
       "color": {"field": "series", "type": "nominal", "title": null, "scale": {"domain": ["GT","NN","K","HK"], "range": ["#0000ff","#00ee00","#000000","#ff0000"]}, "legend": {"title": null}}}},
     {"data": {"name": "a1"}, "mark": {"type": "line", "strokeWidth": 2.5, "clip": true},
      "encoding": {"x": {"field": "x", "type": "quantitative"}, "y": {"field": "y", "type": "quantitative"},
       "color": {"field": "series", "type": "nominal", "title": null}}}
    ]},
   {"width": 337, "height": 202,
    "layer": [
     {"data": {"name": "a2"}, "mark": {"type": "area", "opacity": 0.25, "clip": true},
      "encoding": {"x": {"field": "x", "type": "quantitative", "scale": {"domain": [-400, 400], "nice": false}, "axis": {"values": [-400,-200,0,200,400], "title": "Radial Distance [μm]"}},
       "y": {"field": "lo", "type": "quantitative", "scale": {"domain": [0, 15], "nice": false}, "axis": {"values": [0,5,10,15], "title": "Velocity [mm/s]"}},
       "y2": {"field": "hi"},
       "fill": {"field": "series", "type": "nominal", "scale": {"domain": ["NN","K","HK"], "range": ["#00ee00","#000000","#ff0000"]}, "legend": null}}},
     {"data": {"name": "gt2"}, "mark": {"type": "line", "strokeWidth": 2.8, "clip": true},
      "encoding": {"x": {"field": "x", "type": "quantitative"}, "y": {"field": "y", "type": "quantitative"},
       "color": {"field": "series", "type": "nominal", "title": null, "scale": {"domain": ["GT","NN","K","HK"], "range": ["#0000ff","#00ee00","#000000","#ff0000"]}, "legend": {"title": null}}}},
     {"data": {"name": "a2"}, "mark": {"type": "line", "strokeWidth": 2.5, "clip": true},
      "encoding": {"x": {"field": "x", "type": "quantitative"}, "y": {"field": "y", "type": "quantitative"},
       "color": {"field": "series", "type": "nominal", "title": null}}}
    ]}
  ]
 },
 {
  "title": {"text": "(b) Instantaneous Velocity", "orient": "bottom", "anchor": "middle", "offset": 50},
  "bounds": "flush",
  "spacing": 91,
  "resolve": {"scale": {"color": "independent", "fill": "independent"}, "legend": {"color": "independent"}},
  "hconcat": [
   {"width": 337, "height": 202,
    "layer": [
     {"data": {"name": "b1"}, "mark": {"type": "area", "opacity": 0.25, "clip": true},
      "encoding": {"x": {"field": "x", "type": "quantitative", "scale": {"domain": [-300, 300], "nice": false}, "axis": {"values": [-300,-200,-100,0,100,200,300], "title": "Radial Distance [μm]"}},
       "y": {"field": "lo", "type": "quantitative", "scale": {"domain": [0, 7.5], "nice": false}, "axis": {"values": [0,2,4,6], "title": "Velocity [mm/s]"}},
       "y2": {"field": "hi"},
       "fill": {"field": "series", "type": "nominal", "scale": {"domain": ["NN","K","HK"], "range": ["#00ee00","#000000","#ff0000"]}, "legend": null}}},
     {"data": {"name": "gt1"}, "mark": {"type": "line", "strokeWidth": 2.8, "clip": true},
      "encoding": {"x": {"field": "x", "type": "quantitative"}, "y": {"field": "y", "type": "quantitative"},
       "color": {"field": "series", "type": "nominal", "title": null, "scale": {"domain": ["GT","NN","K","HK"], "range": ["#0000ff","#00ee00","#000000","#ff0000"]}, "legend": {"title": null}}}},
     {"data": {"name": "b1"}, "mark": {"type": "line", "strokeWidth": 2.5, "clip": true},
      "encoding": {"x": {"field": "x", "type": "quantitative"}, "y": {"field": "y", "type": "quantitative"},
       "color": {"field": "series", "type": "nominal", "title": null}}}
    ]},
   {"width": 337, "height": 202,
    "layer": [
     {"data": {"name": "b2"}, "mark": {"type": "area", "opacity": 0.25, "clip": true},
      "encoding": {"x": {"field": "x", "type": "quantitative", "scale": {"domain": [-400, 400], "nice": false}, "axis": {"values": [-400,-200,0,200,400], "title": "Radial Distance [μm]"}},
       "y": {"field": "lo", "type": "quantitative", "scale": {"domain": [0, 15], "nice": false}, "axis": {"values": [0,5,10,15], "title": "Velocity [mm/s]"}},
       "y2": {"field": "hi"},
       "fill": {"field": "series", "type": "nominal", "scale": {"domain": ["NN","K","HK"], "range": ["#00ee00","#000000","#ff0000"]}, "legend": null}}},
     {"data": {"name": "gt2"}, "mark": {"type": "line", "strokeWidth": 2.8, "clip": true},
      "encoding": {"x": {"field": "x", "type": "quantitative"}, "y": {"field": "y", "type": "quantitative"},
       "color": {"field": "series", "type": "nominal", "title": null, "scale": {"domain": ["GT","NN","K","HK"], "range": ["#0000ff","#00ee00","#000000","#ff0000"]}, "legend": {"title": null}}}},
     {"data": {"name": "b2"}, "mark": {"type": "line", "strokeWidth": 2.5, "clip": true},
      "encoding": {"x": {"field": "x", "type": "quantitative"}, "y": {"field": "y", "type": "quantitative"},
       "color": {"field": "series", "type": "nominal", "title": null}}}
    ]}
  ]
 }
],
"spacing": 59,
"resolve": {"scale": {"color": "independent", "fill": "independent"}, "legend": {"color": "independent"}}
}
